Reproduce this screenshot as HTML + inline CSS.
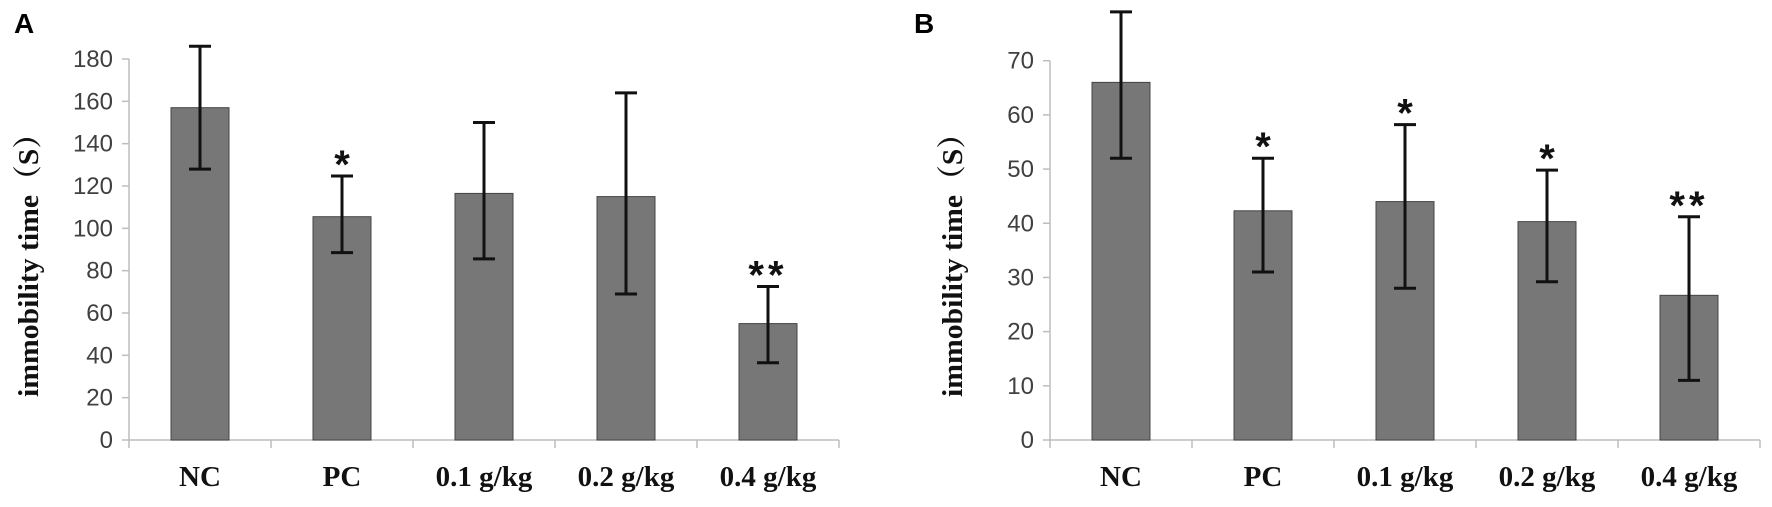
<!DOCTYPE html>
<html><head><meta charset="utf-8"><style>
html,body{margin:0;padding:0;background:#fff;}
svg{display:block;}
.tick{font-family:"Liberation Sans",sans-serif;font-size:24px;fill:#404040;}
.cat{font-family:"Liberation Serif",serif;font-weight:bold;font-size:29px;fill:#111;}
.ytitle{font-family:"Liberation Serif","Noto Serif CJK SC",serif;font-weight:bold;font-size:29px;fill:#111;}
.panel{font-family:"Liberation Sans",sans-serif;font-weight:bold;font-size:28px;fill:#000;}
.star{font-family:"Liberation Sans",sans-serif;font-weight:bold;font-size:40px;fill:#111;}
</style></head><body>
<svg id="chart" width="1772" height="507" viewBox="0 0 1772 507" xmlns="http://www.w3.org/2000/svg"></svg>
<script>
const categories = ["NC","PC","0.1 g/kg","0.2 g/kg","0.4 g/kg"];
const valuesA = [157,105.5,116.5,115,55];
const errHighA = [186,124.7,150,164,72.5];
const errLowA = [128,88.5,85.6,69,36.5];
const starsA = ["","*","","","**"];
const ticksA = [0,20,40,60,80,100,120,140,160,180];
const valuesB = [66,42.3,44,40.3,26.7];
const errHighB = [79,52,58.2,49.8,41.2];
const errLowB = [52,31,28,29.2,11];
const starsB = ["","*","*","*","**"];
const ticksB = [0,10,20,30,40,50,60,70];

const svg = document.getElementById('chart');
const NS = "http://www.w3.org/2000/svg";
function mk(tag, attrs, parent){
  const e = document.createElementNS(NS, tag);
  for (const k in attrs) e.setAttribute(k, attrs[k]);
  (parent||svg).appendChild(e);
  return e;
}
function panel(cfg){
  const g = mk('g', {});
  
  
  const x0 = cfg.x0, y0 = 440, ytop = cfg.ytop, cw = 142;
  const maxV = cfg.ticks[cfg.ticks.length-1];
  const yS = v => y0 - (v/maxV)*(y0-ytop);
  const xS = i => x0 + cw*i + cw/2;
  const L = mk('text', {x:cfg.lx, y:33, class:'panel'}, g);
  L.textContent = cfg.letter;
  
  
  const ya = mk('line', {x1:x0, y1:ytop, x2:x0, y2:y0, stroke:'#bdbdbd', 'stroke-width':1.5}, g);
  
  
  cfg.ticks.forEach(t => {
    const y = yS(t);
    mk('line', {x1:x0-7, y1:y, x2:x0, y2:y, stroke:'#bdbdbd', 'stroke-width':1.5}, g);
    const tx = mk('text', {x:x0-16, y:y+8, 'text-anchor':'end', class:'tick'}, g);
    tx.textContent = t;
    
    
  });
  const xa = mk('line', {x1:x0, y1:y0, x2:x0+cw*categories.length, y2:y0, stroke:'#bdbdbd', 'stroke-width':1.5}, g);
  
  
  for (let i=0;i<=categories.length;i++){
    mk('line', {x1:x0+cw*i, y1:y0, x2:x0+cw*i, y2:y0+8, stroke:'#bdbdbd', 'stroke-width':1.5}, g);
  }
  const yt = mk('text', {x:0, y:0, 'text-anchor':'middle', class:'ytitle', textLength:278, lengthAdjust:'spacingAndGlyphs', transform:`translate(${cfg.tx},258) rotate(-90)`}, g);
  yt.textContent = 'immobility time（S）';
  
  
  categories.forEach((c,i) => {
    const cx = xS(i);
    const b = mk('rect', {x:cx-29, y:yS(cfg.vals[i]), width:58, height:y0-yS(cfg.vals[i]), fill:'#777', stroke:'#444', 'stroke-width':1}, g);
    
    
    const yh = yS(cfg.hi[i]), yl = yS(cfg.lo[i]);
    const eb = mk('path', {d:`M${cx},${yh}V${yl}M${cx-11},${yh}H${cx+11}M${cx-11},${yl}H${cx+11}`, stroke:'#111', 'stroke-width':3, fill:'none'}, g);
    
    
    if (cfg.stars[i]) {
      const s = mk('text', {x:cx, y:yh+2, 'text-anchor':'middle', class:'star', 'letter-spacing':cfg.stars[i].length>1?'4':'0'}, g);
      s.textContent = cfg.stars[i];
      
      
    }
    const cl = mk('text', {x:cx, y:486, 'text-anchor':'middle', class:'cat'}, g);
    cl.textContent = c;
    
    
  });
}
panel({name:'panel-a', letter:'A', lx:14, x0:129, ytop:59, tx:38, ticks:ticksA, vals:valuesA, hi:errHighA, lo:errLowA, stars:starsA});
panel({name:'panel-b', letter:'B', lx:914, x0:1050, ytop:60.7, tx:962, ticks:ticksB, vals:valuesB, hi:errHighB, lo:errLowB, stars:starsB});
</script>
</body></html>
